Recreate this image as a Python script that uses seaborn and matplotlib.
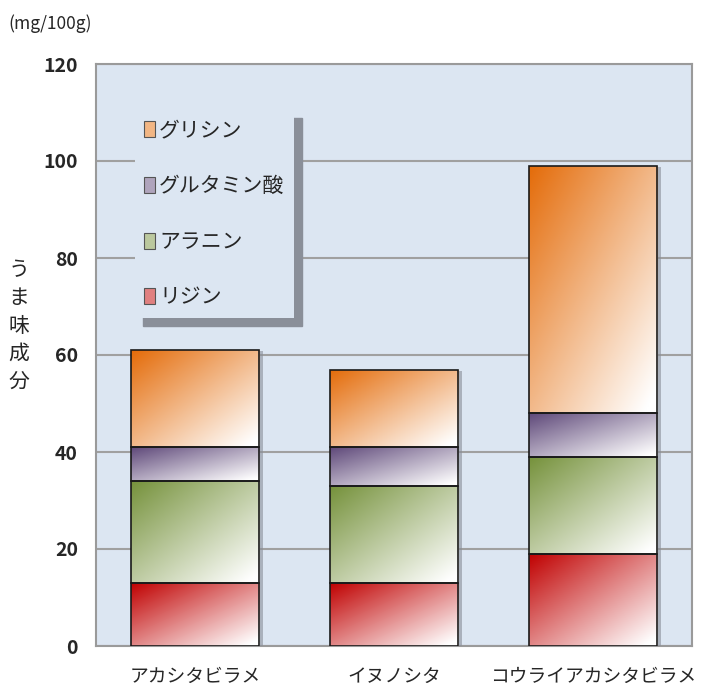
import numpy as np
import pandas as pd
import matplotlib
matplotlib.use("Agg")
import matplotlib.pyplot as plt
from matplotlib.patches import Patch
import seaborn as sns

categories = ["アカシタビラメ", "イヌノシタ", "コウライアカシタビラメ"]
series_names = ["リジン", "アラニン", "グルタミン酸", "グリシン"]
lysine = [13, 13, 19]
alanine = [21, 20, 20]
glutamic = [7, 8, 9]
glycine = [20, 16, 51]
yticks = [0, 20, 40, 60, 80, 100, 120]

colors = ["#c00000", "#76923c", "#5f497a", "#e46c0a"]

sns.set_theme(style="white")
plt.rcParams["font.family"] = ["Noto Sans CJK JP", "DejaVu Sans"]

fig = plt.figure(figsize=(7.02, 6.91), dpi=100)
ax = fig.add_axes([96/702, 45/691, 596/702, 582/691])
ax.set_facecolor("#dce6f2")

df = pd.DataFrame({"cat": categories, "リジン": lysine, "アラニン": alanine,
                   "グルタミン酸": glutamic, "グリシン": glycine})

bottom = np.zeros(len(categories))
all_patches = []
for name, col in zip(series_names, colors):
    n_before = len(ax.patches)
    sns.barplot(data=df, x="cat", y=name, bottom=bottom, width=0.645, color=col,
                ax=ax, zorder=3, saturation=1)
    new = ax.patches[n_before:]
    all_patches.append((new, col))
    bottom = bottom + df[name].values

ax.set_xlim(-0.5, 2.5)
ax.set_ylim(0, 120)

def gradient_img(col, n=64):
    base = np.array(matplotlib.colors.to_rgb(col))
    u = np.linspace(0, 1, n)[None, :]
    v = np.linspace(0, 1, n)[:, None]
    t = (u + v) / 2.0
    t = np.clip(t * 1.05, 0, 1)
    img = base[None, None, :] * (1 - t[..., None]) + np.ones(3)[None, None, :] * t[..., None]
    return img

for patches, col in all_patches:
    img = gradient_img(col)
    for p in patches:
        x0, y0 = p.get_x(), p.get_y()
        w, h = p.get_width(), p.get_height()
        p.set_facecolor("none")
        p.set_edgecolor("#1a1a1a")
        p.set_linewidth(1.2)
        p.set_zorder(5)
        im = ax.imshow(img, extent=[x0, x0 + w, y0, y0 + h], aspect="auto",
                       zorder=4, interpolation="bilinear", origin="upper")
        im.set_clip_path(p)
        sh = matplotlib.patches.Rectangle((x0, y0), w, h, facecolor="#8a8f99",
                                          edgecolor="none", zorder=3, alpha=0.6)
        sh.set_transform(matplotlib.transforms.offset_copy(ax.transData, fig=fig, x=4, y=-1, units="dots"))
        ax.add_patch(sh)

ax.set_xlim(-0.5, 2.5)
ax.set_ylim(0, 120)
ax.set_yticks(yticks)
ax.set_yticklabels([str(v) for v in yticks], fontsize=14, fontweight="bold")
ax.set_xticks(range(len(categories)))
ax.set_xticklabels(categories, fontsize=13.5)
ax.tick_params(axis="y", length=0, pad=13)
ax.tick_params(axis="x", length=0, pad=14)
ax.set_xlabel("")
ax.set_ylabel("う\nま\n味\n成\n分", rotation=0, fontsize=15, labelpad=30,
              va="center", linespacing=1.35)
ax.yaxis.set_label_coords(-0.13, 0.55)
ax.grid(axis="y", color="#a0a0a0", linewidth=1.5, zorder=1)
ax.set_axisbelow(True)
for s in ax.spines.values():
    s.set_color("#9a9a9a")
    s.set_linewidth(1.5)

fig.text(8/702, 1 - 24/691, "(mg/100g)", fontsize=12.5, va="center", ha="left")

handles = [Patch(facecolor=matplotlib.colors.to_hex(0.5*np.array(matplotlib.colors.to_rgb(c)) + 0.5), edgecolor="#555555", linewidth=0.8)
           for c in colors]
leg = ax.legend(handles[::-1], series_names[::-1], loc="upper left",
                bbox_to_anchor=(39/596, 1 - 46/582), fontsize=15,
                frameon=True, facecolor="#dce6f2", edgecolor="none",
                framealpha=1, fancybox=False,
                shadow={"ox": 6, "oy": -6, "color": "#8a8f99", "alpha": 1},
                handlelength=0.5, handleheight=0.8, handletextpad=0.2,
                labelspacing=1.62, borderpad=0.45, borderaxespad=0)
leg.set_zorder(10)

fig.savefig("out.png", dpi=100, facecolor="white")
